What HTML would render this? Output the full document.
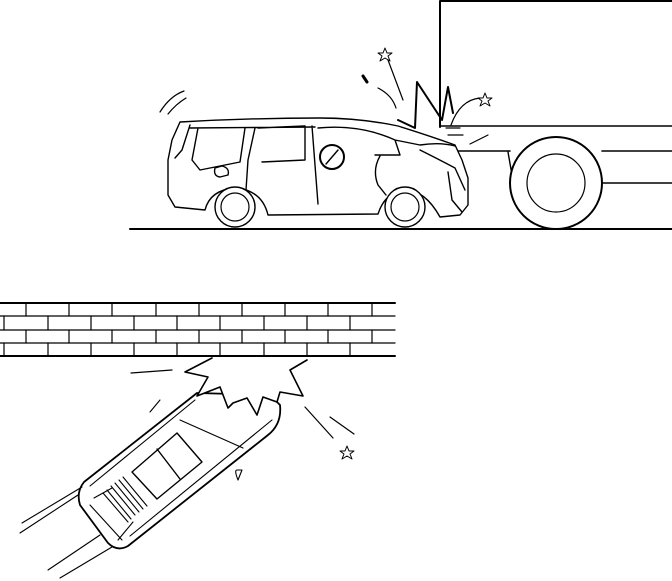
<!DOCTYPE html>
<html><head><meta charset="utf-8"><style>html,body{margin:0;padding:0;background:#fff}svg{display:block}</style></head><body>
<svg width="672" height="581" viewBox="0 0 672 581" xmlns="http://www.w3.org/2000/svg" fill="none" stroke="#000" stroke-linecap="round" stroke-linejoin="round">
<!-- truck -->
<path d="M440 127 V1 H672" stroke-width="2"/>
<path d="M440 126 H672" stroke-width="1.6"/>
<path d="M458 151 H510 M602 151 H672 M602 183 H672" stroke-width="1.6"/>
<path d="M508 152 L512 175" stroke-width="1.4"/>
<circle cx="556" cy="183" r="46" stroke-width="2" fill="#fff"/>
<circle cx="556" cy="183" r="29" stroke-width="1.2"/>
<!-- ground -->
<path d="M130 229 H672" stroke-width="2"/>
<!-- van body -->
<g stroke-width="1.4">
<path d="M180 122 Q250 118 320 118 Q360 118 398 126 Q430 136 455 145 L462 160 L468 178 L468 205 L460 215 L440 217 Q425 190 405 190 Q385 192 378 214 L268 215 Q262 190 235 188 Q210 190 205 210 L175 207 L168 195 L168 160 L172 140 Z" fill="#fff"/>
<path d="M190 125 L182 150 L175 158 M190 128 L315 127 M198 128 L192 160 L200 170 L240 162 L245 128 M255 128 L248 160 L245 205 M258 128 L305 126 L305 160 L262 162 M312 126 L318 204 M318 128 Q360 124 395 140 L400 155 L375 155 M395 140 L420 145 Q440 142 455 146"/>
<circle cx="332" cy="157" r="12" stroke-width="2"/>
<path d="M326 164 L338 150"/>
<path d="M380 156 Q372 170 378 185 L386 195 M215 168 Q213 176 220 177 L228 175 Q230 168 222 166 Z"/>
<path d="M420 150 Q440 160 455 168 L465 190 M448 172 L452 200 L462 212"/>
</g>
<circle cx="235" cy="207" r="20" stroke-width="1.4" fill="#fff"/>
<circle cx="235" cy="207" r="14" stroke-width="1.2"/>
<circle cx="405" cy="207" r="20" stroke-width="1.4" fill="#fff"/>
<circle cx="405" cy="207" r="14" stroke-width="1.2"/>
<!-- motion/impact marks -->
<path d="M160 112 Q170 96 184 91 M168 114 Q176 104 186 98" stroke-width="1.2"/>
<path d="M398 120 L415 128 L417 82 L442 120 L448 87 L453 113" stroke-width="2"/>
<path d="M388 60 L403 100 M378 88 Q392 95 396 108 M451 125 Q460 100 480 98 M470 144 L488 135 M446 128 H460 M448 135 H463" stroke-width="1.2"/>
<path d="M385 48 l2 5 5 0 -4 3 2 5 -5-3 -5 3 2-5 -4-3 5 0z M485 93 l2 5 5 0 -4 3 2 5 -5-3 -5 3 2-5 -4-3 5 0z" stroke-width="1"/>
<path d="M363 76 l4 6" stroke-width="3"/>
<!-- wall -->
<g stroke-width="1.2">
<path d="M0 303 H395 M0 356 H395" stroke-width="2"/>
<path d="M0 316 H395 M0 330 H395 M0 343 H395"/>
<path d="M26 303V316 M69 303V316 M112 303V316 M156 303V316 M199 303V316 M242 303V316 M285 303V316 M328 303V316 M372 303V316"/>
<path d="M4 316V330 M48 316V330 M91 316V330 M134 316V330 M177 316V330 M220 316V330 M264 316V330 M307 316V330 M350 316V330"/>
<path d="M26 330V343 M69 330V343 M112 330V343 M156 330V343 M199 330V343 M242 330V343 M285 330V343 M328 330V343 M372 330V343"/>
<path d="M4 343V356 M48 343V356 M91 343V356 M134 343V356 M177 343V356 M220 343V356 M264 343V356 M307 343V356 M350 343V356"/>
</g>
<!-- car top view -->
<path d="M197 393 L84 482 Q76 492 80 505 L108 543 Q117 552 128 546 L268 435 Q282 424 280 405 L270 395 Z" stroke-width="1.8" fill="#fff"/>
<g stroke-width="1.1">
<path d="M195 400 L90 486 M272 420 L130 536 M180 420 L243 448 M90 505 L122 540 M94 498 L112 488 M118 540 L133 522"/>
<path d="M132 472 L177 433 L202 462 L157 499 Z M157 449 L180 479" stroke-width="1.4"/>
<path d="M103 493 L128 522 M107 490 L131 519 M111 486 L135 515 M115 483 L139 512 M119 480 L143 509 M123 477 L147 506"/>
<path d="M160 400 L150 412 M237 470 L242 470 L238 480 Q234 470 237 470"/>
<path d="M22 523 L82 487 M20 533 L78 495 M48 570 L100 535 M60 578 L112 547"/>
</g>
<!-- crash bottom -->
<path d="M212 358 L185 372 L208 377 L197 396 L220 387 L228 408 L233 403 L247 398 L257 415 L263 397 L277 402 L280 392 L303 396 L290 370 L307 360" stroke-width="1.6" fill="#fff"/>
<path d="M131 373 L172 370 M305 407 L333 438 M330 417 L354 434" stroke-width="1.2"/>
<path d="M347 446 l2 5 5 0 -4 3 2 5 -5-3 -5 3 2-5 -4-3 5 0z" stroke-width="1"/>
</svg>
</body></html>
